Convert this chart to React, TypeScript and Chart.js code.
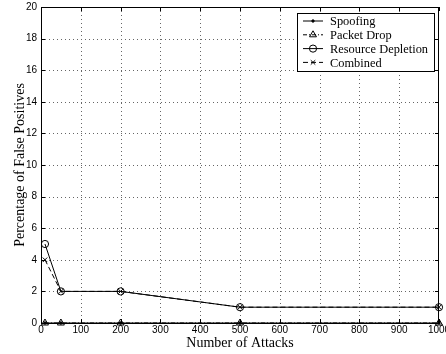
import React, { useEffect, useRef } from "react";
import { Chart, registerables } from "chart.js";

Chart.register(...registerables);

const attacks = [10, 50, 200, 500, 1000];
const spoofing = [0, 0, 0, 0, 0];
const packetDrop = [0, 0, 0, 0, 0];
const resourceDepletion = [5, 2, 2, 1, 1];
const combined = [4, 2, 2, 1, 1];
const seriesNames = ["Spoofing", "Packet Drop", "Resource Depletion", "Combined"];
const xTicks = [0, 100, 200, 300, 400, 500, 600, 700, 800, 900, 1000];
const yTicks = [0, 2, 4, 6, 8, 10, 12, 14, 16, 18, 20];

const SERIF = "'Liberation Serif', 'Times New Roman', serif";
const SANS = "'Liberation Sans', Arial, sans-serif";

function pts(vals: number[]) {
  return attacks.map((x, i) => ({ x, y: vals[i] }));
}

const styles = [
  { dash: [] as number[], pointStyle: "circle", radius: 1.2, fill: "#000" },
  { dash: [4, 2, 1, 2], pointStyle: "triangle", radius: 4, fill: "rgba(0,0,0,0)" },
  { dash: [] as number[], pointStyle: "circle", radius: 3.6, fill: "rgba(0,0,0,0)" },
  { dash: [5, 3], pointStyle: "crossRot", radius: 3.2, fill: "rgba(0,0,0,0)" },
];

function marker(ctx: CanvasRenderingContext2D, i: number, x: number, y: number) {
  const st = styles[i];
  const r = st.radius;
  ctx.beginPath();
  if (st.pointStyle === "circle") {
    ctx.arc(x, y, r, 0, Math.PI * 2);
    if (i === 0) { ctx.fillStyle = "#000"; ctx.fill(); }
    ctx.stroke();
  } else if (st.pointStyle === "triangle") {
    ctx.moveTo(x, y - r);
    ctx.lineTo(x + r * 0.87, y + r * 0.5);
    ctx.lineTo(x - r * 0.87, y + r * 0.5);
    ctx.closePath();
    ctx.stroke();
  } else {
    ctx.moveTo(x - r * 0.7, y - r * 0.7);
    ctx.lineTo(x + r * 0.7, y + r * 0.7);
    ctx.moveTo(x + r * 0.7, y - r * 0.7);
    ctx.lineTo(x - r * 0.7, y + r * 0.7);
    ctx.stroke();
  }
}

const gridPlugin = {
  id: "gridPlugin",
  beforeDatasetsDraw(chart: any) {
    const ctx = chart.ctx;
    const a = chart.chartArea;
    const xs = chart.scales.x;
    const ys = chart.scales.y;
    ctx.save();
    ctx.strokeStyle = "#666";
    ctx.lineWidth = 1;
    ctx.setLineDash([1, 3]);
    ctx.beginPath();
    xTicks.slice(1, -1).forEach((t) => {
      const px = Math.round(xs.getPixelForValue(t)) + 0.5;
      ctx.moveTo(px, a.top);
      ctx.lineTo(px, a.bottom);
    });
    yTicks.slice(1, -1).forEach((t) => {
      const py = Math.round(ys.getPixelForValue(t)) + 0.5;
      ctx.moveTo(a.left, py);
      ctx.lineTo(a.right, py);
    });
    ctx.stroke();
    ctx.restore();
  },
};

const overlay = {
  id: "overlay",
  afterDraw(chart: any) {
    const ctx = chart.ctx;
    const a = chart.chartArea;
    ctx.save();
    ctx.strokeStyle = "#000";
    ctx.lineWidth = 1;
    ctx.strokeRect(a.left + 0.5, a.top + 0.5, a.right - a.left - 1, a.bottom - a.top);
    const xs = chart.scales.x;
    const ys = chart.scales.y;
    ctx.beginPath();
    xTicks.forEach((t) => {
      const px = Math.round(xs.getPixelForValue(t)) + 0.5;
      ctx.moveTo(px, a.bottom);
      ctx.lineTo(px, a.bottom - 4);
      ctx.moveTo(px, a.top);
      ctx.lineTo(px, a.top + 4);
    });
    yTicks.forEach((t) => {
      const py = Math.round(ys.getPixelForValue(t)) + 0.5;
      ctx.moveTo(a.left, py);
      ctx.lineTo(a.left + 4, py);
      ctx.moveTo(a.right, py);
      ctx.lineTo(a.right - 4, py);
    });
    ctx.stroke();
    ctx.fillStyle = "#000";
    ctx.font = "14px " + SERIF;
    ctx.textAlign = "center";
    ctx.textBaseline = "alphabetic";
    ctx.fillText("Number of Attacks", (a.left + a.right) / 2, 347);
    ctx.save();
    ctx.translate(24, (a.top + a.bottom) / 2);
    ctx.rotate(-Math.PI / 2);
    ctx.fillText("Percentage of False Positives", 0, 0);
    ctx.restore();
    const lx = 297, ly = 13, lw = 137, lh = 58;
    ctx.fillStyle = "#fff";
    ctx.fillRect(lx, ly, lw, lh);
    ctx.strokeStyle = "#000";
    ctx.lineWidth = 1;
    ctx.strokeRect(lx + 0.5, ly + 0.5, lw, lh);
    ctx.font = "12.4px " + SERIF;
    ctx.textAlign = "left";
    ctx.textBaseline = "middle";
    seriesNames.forEach((name, i) => {
      const y = ly + 8 + i * 13.8;
      const st = styles[i];
      ctx.setLineDash(st.dash);
      ctx.beginPath();
      ctx.moveTo(lx + 6, y);
      ctx.lineTo(lx + 26, y);
      ctx.stroke();
      ctx.setLineDash([]);
      marker(ctx, i, lx + 16, y);
      ctx.fillStyle = "#000";
      ctx.fillText(name, lx + 33, y + 1);
    });
    ctx.restore();
  },
};

export default function App() {
  const ref = useRef<HTMLCanvasElement | null>(null);
  useEffect(() => {
    document.body.style.margin = "0";
    const allData = [spoofing, packetDrop, resourceDepletion, combined];
    const chart = new Chart(ref.current as HTMLCanvasElement, {
      type: "line",
      data: {
        datasets: allData.map((vals, i) => ({
          label: seriesNames[i],
          data: pts(vals),
          borderColor: "#000",
          borderWidth: 1,
          borderDash: styles[i].dash,
          pointStyle: styles[i].pointStyle as any,
          pointRadius: styles[i].radius,
          pointBorderColor: "#000",
          pointBackgroundColor: styles[i].fill,
          pointBorderWidth: 1,
          fill: false,
          tension: 0,
          clip: false,
        })),
      },
      options: {
        animation: false,
        responsive: false,
        events: [],
        layout: { padding: { top: 7, right: 7, left: 0, bottom: 0 } },
        plugins: { legend: { display: false }, tooltip: { enabled: false }, title: { display: false } },
        scales: {
          x: {
            type: "linear",
            min: 0,
            max: 1000,
            afterBuildTicks: (s: any) => { s.ticks = xTicks.map((v) => ({ value: v })); },
            afterFit: (s: any) => { s.height = 31; s.paddingLeft = 0; s.paddingRight = 0; },
            grid: { display: false, drawTicks: false },
            border: { display: false },
            ticks: { color: "#000", font: { family: SANS, size: 10 }, padding: 1, maxRotation: 0, autoSkip: false, callback: (v: any) => String(v) },
          },
          y: {
            type: "linear",
            min: 0,
            max: 20,
            afterBuildTicks: (s: any) => { s.ticks = yTicks.map((v) => ({ value: v })); },
            afterFit: (s: any) => { s.width = 41; s.paddingTop = 0; s.paddingBottom = 0; },
            grid: { display: false, drawTicks: false },
            border: { display: false },
            ticks: { color: "#000", font: { family: SANS, size: 10 }, padding: 4, autoSkip: false, callback: (v: any) => String(v) },
          },
        },
      } as any,
      plugins: [gridPlugin, overlay],
    });
    return () => chart.destroy();
  }, []);
  return (
    <div style={{ position: "absolute", left: 0, top: 0, width: 446, height: 354, background: "#fff" }}>
      <canvas ref={ref} width={446} height={354} style={{ width: 446, height: 354 }} />
    </div>
  );
}
